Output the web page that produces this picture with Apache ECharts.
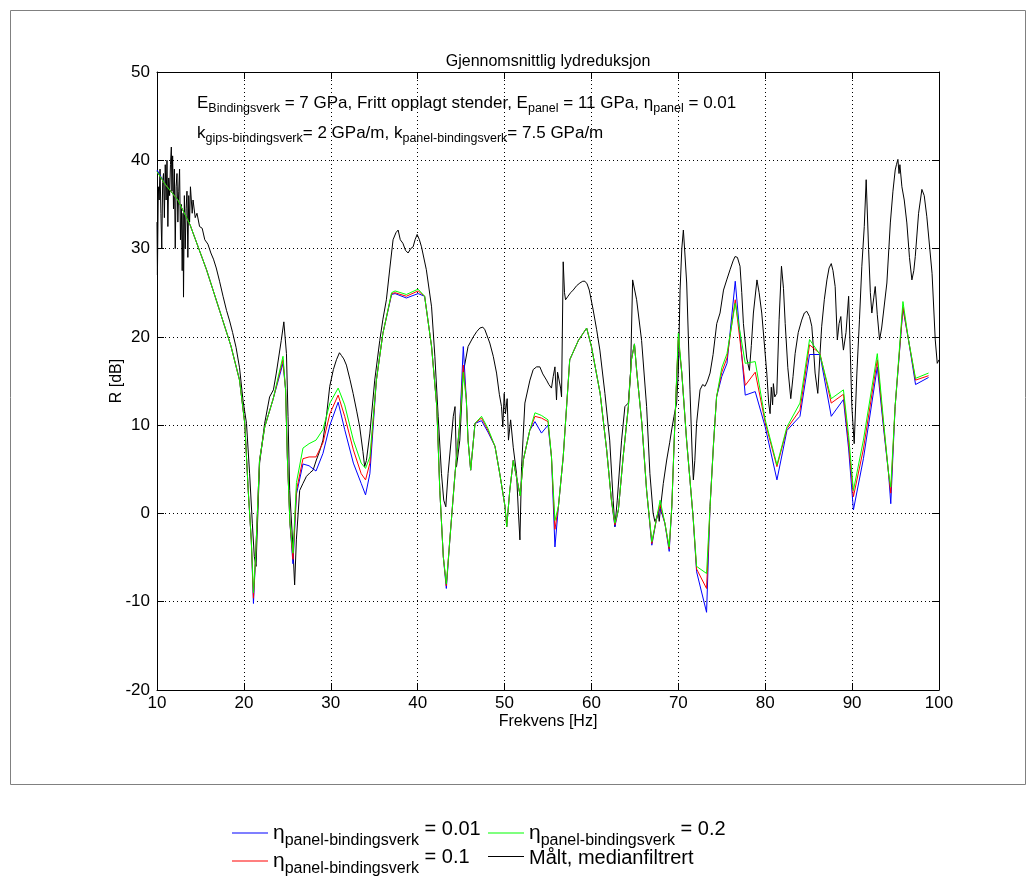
<!DOCTYPE html>
<html><head><meta charset="utf-8">
<script src="https://cdn.jsdelivr.net/npm/echarts@6/dist/echarts.min.js"></script>
<style>html,body{margin:0;padding:0;background:#fff}#c{width:1036px;height:876px}</style>
</head><body><div id="c"></div>
<script>
// ---------- DATA ----------
const titleText = 'Gjennomsnittlig lydreduksjon';
const xAxisName = 'Frekvens [Hz]';
const yAxisName = 'R [dB]';
const seriesNames = ['eta001', 'eta01', 'eta02', 'measured'];
const etaValues = ['0.01', '0.1', '0.2'];
const measuredLabel = 'Målt, medianfiltrert';

// model frequencies (Hz)
const modelFreq = [
  10, 11, 12.4, 13.8, 15.7, 17.2, 18.5, 19.5, 20.1, 20.5,
  20.85, 21.1, 21.35, 21.8, 22.4, 23.35, 24.5, 24.8, 25.0, 25.3,
  25.65, 26.05, 26.8, 27.5, 28.3, 29.1, 29.9, 30.85, 31.6, 32.6,
  33.5, 34.0, 34.5, 35.25, 36.0, 37.0, 37.4, 38.7, 40.05, 40.8,
  41.6, 42.2, 42.55, 42.95, 43.3, 43.7, 44.3, 44.85, 45.25, 45.6,
  45.8, 46.1, 46.6, 47.35, 48.1, 48.9, 49.45, 50.05, 50.25, 50.6,
  51.0, 51.3, 51.8, 52.15, 52.9, 53.5, 54.25, 55.0, 55.4, 55.8,
  56.2, 56.75, 57.5, 58.5, 59.45, 60.0, 61.0, 61.75, 62.3, 62.7,
  63.1, 63.65, 64.25, 64.6, 64.95, 65.2, 65.8, 66.35, 66.95, 67.45,
  67.9, 68.45, 68.95, 69.25, 69.6, 70.0, 70.4, 70.95, 71.7, 72.1,
  73.25, 73.65, 74.05, 74.4, 75.0, 75.6, 76.55, 77.7, 78.85, 80.0,
  81.35, 82.5, 84.0, 85.1, 86.3, 87.6, 89.0, 89.6, 90.15, 91.3,
  92.9, 93.6, 94.2, 94.45, 94.95, 95.85, 96.5, 97.3, 98.8
];
// eta = 0.01 (blue)
const modelBlue = [
  38.9, 37.2, 35.5, 32.7, 27.6, 23.0, 19.0, 15.1, 10.2, 2.6,
  -3.0, -10.2, -4.9, 6.0, 9.8, 12.9, 17.0, 14.0, 6.4, -1.1,
  -5.7, 2.2, 5.6, 5.4, 4.8, 6.8, 10.0, 12.6, 9.5, 5.7,
  3.4, 2.1, 4.5, 15.1, 20.4, 24.8, 24.9, 24.4, 24.9, 24.6,
  18.9, 12.1, 2.6, -4.9, -8.5, -3.0, 4.5, 10.2, 18.9, 12.9,
  8.3, 4.9, 10.2, 10.5, 9.2, 7.6, 4.5, 0.8, -1.5, 2.6,
  6.0, 4.5, 2.0, 6.0, 9.4, 10.4, 9.1, 10.0, 6.4, -3.8,
  0.8, 6.4, 17.4, 19.6, 21.0, 18.9, 13.6, 7.2, 1.5, -1.5,
  0.4, 6.4, 12.1, 17.4, 19.2, 16.2, 10.2, 2.6, -3.6, -0.8,
  0.6, -1.1, -4.3, 0.8, 10.2, 19.6, 15.9, 8.3, -0.4, -6.6,
  -11.2, 0.8, 7.9, 13.2, 15.5, 17.0, 26.3, 13.4, 13.8, 9.8,
  3.8, 9.4, 11.0, 18.0, 18.0, 11.0, 12.9, 7.3, 0.4, 6.2,
  16.6, 9.8, 4.5, 1.1, 12.1, 23.2, 19.6, 14.6, 15.4
];
// eta = 0.1 (red)
const modelRed = [
  38.7, 37.2, 35.5, 32.7, 27.6, 23.0, 19.0, 15.1, 10.2, 2.6,
  -3.0, -9.6, -4.9, 6.0, 9.8, 12.9, 17.4, 14.0, 6.4, -1.1,
  -5.2, 2.6, 6.2, 6.4, 6.4, 8.0, 11.3, 13.4, 11.0, 7.2,
  4.5, 3.8, 5.7, 15.1, 20.4, 24.9, 25.0, 24.6, 25.2, 24.6,
  18.9, 12.1, 2.6, -4.9, -8.2, -3.0, 4.5, 10.2, 16.8, 12.9,
  8.3, 4.9, 10.2, 10.8, 9.4, 7.6, 4.5, 0.8, -1.5, 2.6,
  6.0, 4.5, 2.0, 6.0, 9.4, 11.0, 10.8, 10.4, 6.4, -1.8,
  0.8, 6.4, 17.4, 19.6, 21.0, 18.9, 13.6, 7.2, 1.5, -1.3,
  0.4, 6.4, 12.1, 17.4, 19.2, 16.2, 10.2, 2.6, -3.4, -0.8,
  1.0, -1.1, -4.0, 0.8, 10.2, 20.0, 15.9, 8.3, -0.4, -6.3,
  -8.5, 0.8, 7.9, 13.2, 16.0, 17.6, 24.2, 14.5, 16.0, 10.3,
  5.3, 9.6, 11.7, 19.1, 18.1, 12.5, 13.5, 8.0, 1.9, 7.3,
  17.4, 10.2, 4.5, 2.3, 12.1, 23.4, 19.6, 15.1, 15.6
];
// eta = 0.2 (green)
const modelGreen = [
  38.7, 37.2, 35.5, 32.7, 27.6, 23.0, 19.0, 15.1, 10.2, 2.6,
  -3.0, -9.0, -4.9, 6.0, 9.8, 12.9, 17.8, 14.0, 6.4, -1.1,
  -4.5, 3.5, 7.4, 7.9, 8.3, 9.5, 12.5, 14.2, 12.3, 8.3,
  5.7, 5.1, 6.4, 15.1, 20.4, 25.0, 25.2, 24.8, 25.4, 24.6,
  18.9, 12.1, 2.6, -4.9, -8.0, -3.0, 4.5, 10.2, 16.0, 12.9,
  8.3, 4.9, 10.2, 11.0, 9.6, 7.6, 4.5, 0.8, -1.5, 2.6,
  6.0, 4.5, 2.0, 6.0, 9.4, 11.4, 11.1, 10.6, 6.4, -0.8,
  0.8, 6.4, 17.4, 19.6, 21.0, 18.9, 13.6, 7.2, 1.5, -1.1,
  0.4, 6.4, 12.1, 17.4, 19.2, 16.2, 10.2, 2.6, -3.2, -0.8,
  1.5, -1.1, -3.8, 0.8, 10.2, 20.4, 15.9, 8.3, -0.4, -6.0,
  -6.8, 0.8, 7.9, 13.2, 16.5, 18.1, 23.8, 17.0, 17.2, 10.6,
  5.5, 9.8, 12.5, 19.7, 18.0, 13.0, 14.0, 8.8, 2.6, 8.3,
  18.1, 10.6, 4.5, 3.0, 12.1, 24.0, 19.6, 15.3, 15.9
];
// measured, median filtered: [frequency Hz, R dB]
const measuredPoints = [
  [10.0,33],[10.05,27],[10.15,37],[10.25,35.5],[10.35,39],[10.45,34],[10.55,30],[10.65,37.5],[10.75,38.5],[10.85,33.5],
  [10.95,39.5],[11.05,35.5],[11.15,40],[11.25,32.5],[11.35,38],[11.45,36],[11.55,39.5],[11.65,41.5],[11.72,36.5],[11.8,40.5],
  [11.9,34.5],[12.0,39],[12.1,30],[12.2,37],[12.3,38.5],[12.4,33],[12.5,36.5],[12.6,39],[12.7,31],[12.8,35],
  [12.9,27.5],[13.0,34],[13.05,24.5],[13.15,36],[13.25,30],[13.35,34.5],[13.45,36.5],[13.55,29],[13.65,36],[13.75,33],
  [13.85,37],[13.95,35.5],[14.05,34],[14.15,35.5],[14.4,33.5],[14.6,34],[14.9,32.5],[15.2,32.3],[15.5,31],[15.86,30.5],
  [16.2,29.5],[16.5,28.8],[16.82,27.8],[17.2,26.3],[17.6,24.6],[18.0,23.0],[18.36,21.8],[18.7,20.5],[19.1,18.8],[19.5,16.5],
  [19.9,12.8],[20.3,10.2],[20.66,4.5],[20.97,-1.1],[21.2,-4.9],[21.4,-6.0],[21.5,-3.0],[21.81,5.7],[22.39,10.2],[22.96,13.2],
  [23.4,14.0],[23.73,15.9],[24.3,19.6],[24.6,21.7],[24.9,18.1],[25.08,11],[25.27,2.6],[25.6,-3.0],[25.84,-8.1],[26.04,-3],
  [26.42,2.6],[26.8,3.4],[27.2,4.2],[27.6,4.6],[27.96,4.9],[28.34,6.05],[28.7,7.0],[29.1,8.3],[29.5,11.0],[29.88,14.4],
  [30.3,16.3],[30.65,17.4],[31.0,18.2],[31.22,17.9],[31.5,17.5],[31.8,16.8],[32.2,15.2],[32.57,13.6],[33.0,11.5],[33.33,9.8],
  [33.7,7.0],[33.9,5.3],[34.1,6.0],[34.5,9.1],[35.06,15.1],[35.64,19.6],[36.0,22.0],[36.4,24.2],[36.8,27.8],[37.17,31.0],
  [37.5,31.8],[37.75,32.1],[38.0,31.0],[38.3,30.6],[38.6,29.8],[38.9,29.5],[39.2,30.0],[39.48,30.2],[39.7,31.0],[39.94,31.6],
  [40.2,31.0],[40.44,30.2],[41.0,27.6],[41.6,23.4],[41.98,17.8],[42.36,11.0],[42.74,4.5],[43.0,1.5],[43.24,0.75],[43.5,4.5],
  [44.1,11.0],[44.3,12.1],[44.47,5.3],[44.85,8.3],[45.24,15.9],[45.8,18.9],[46.4,20.0],[46.8,20.6],[47.16,21.0],[47.5,21.1],
  [47.74,20.8],[48.3,19.3],[48.7,17.8],[49.08,15.9],[49.4,13.5],[49.65,12.1],[49.8,9.8],[49.96,13.6],[50.1,11.3],[50.3,13.0],
  [50.45,8.3],[50.7,10.6],[51.0,7.5],[51.38,4.5],[51.6,0],[51.77,-3.0],[51.96,5.3],[52.34,12.5],[52.92,15.1],[53.3,16.3],
  [53.69,16.6],[54.06,16.6],[54.4,15.8],[54.83,15.1],[55.1,14.6],[55.4,14.2],[55.6,15.5],[55.8,16.6],[55.98,12.85],[56.1,16.0],
  [56.29,15.9],[56.45,14.2],[56.56,13.2],[56.75,28.5],[56.9,25.0],[57.02,24.2],[57.3,24.6],[57.6,25.0],[57.9,25.3],[58.3,25.8],
  [58.67,26.1],[59.0,26.3],[59.25,26.3],[59.5,26.0],[59.75,25.3],[60.2,23.05],[60.6,20.8],[60.97,18.5],[61.55,13.6],[62.1,8.3],
  [62.5,1.5],[62.7,-1.5],[62.97,1.5],[63.47,8.3],[63.85,12.1],[64.24,12.5],[64.5,15.9],[64.74,26.45],[65.2,24.2],[65.77,19.6],
  [66.35,12.1],[66.73,4.5],[67.1,0.0],[67.3,-0.9],[67.5,-0.5],[67.7,0.2],[67.8,-0.9],[67.96,0.75],[68.27,3.4],[68.66,6.05],
  [69.0,8.0],[69.23,9.45],[69.5,11.0],[69.8,12.5],[70.0,16],[70.2,25.3],[70.4,30],[70.58,32.1],[70.75,29.5],[70.96,26.1],
  [71.34,14.0],[71.6,6.5],[71.73,3.8],[71.9,6.0],[72.1,10.2],[72.5,14.0],[72.8,14.6],[73.07,14.4],[73.35,15.0],[73.65,15.9],
  [74.0,18.0],[74.42,21.5],[74.8,22.7],[75.2,25.3],[75.57,26.45],[75.95,27.6],[76.3,28.6],[76.53,29.1],[76.8,29.0],[77.1,28.0],
  [77.3,25.0],[77.49,21.5],[77.87,17.6],[78.0,17.0],[78.18,16.2],[78.4,19.0],[78.64,22.7],[79.05,26.45],[79.3,25.0],[79.6,22.7],
  [80.18,15.9],[80.4,12.5],[80.56,11.3],[80.7,14.3],[80.85,12.3],[80.94,14.7],[81.1,13.2],[81.33,13.6],[81.6,22.0],[81.87,28.0],
  [82.1,25.5],[82.3,21.5],[82.6,16.5],[82.94,13.0],[83.2,15.5],[83.44,18.1],[83.8,20.5],[84.2,21.9],[84.5,22.7],[84.78,22.9],
  [85.1,22.3],[85.36,21.2],[85.6,18.0],[85.74,15.9],[86.05,13.6],[86.3,18.0],[86.5,21.2],[86.8,24.2],[87.1,26.45],[87.35,27.8],
  [87.6,28.3],[87.8,27.5],[88.05,25.7],[88.3,19.65],[88.5,21.5],[88.7,22.3],[88.85,20.0],[89.0,18.5],[89.3,20.5],[89.6,24.6],
  [89.8,18.0],[89.97,12.1],[90.24,7.9],[90.55,15.9],[90.85,22.0],[91.12,28.0],[91.4,32.5],[91.62,37.8],[91.9,29.9],[92.1,25.0],
  [92.27,22.7],[92.5,24.5],[92.66,25.7],[92.9,22.5],[93.16,19.65],[93.4,21.0],[93.6,22.7],[94.0,26.1],[94.4,32.9],[94.7,36.5],
  [94.96,38.9],[95.1,39.5],[95.27,40.1],[95.4,38.5],[95.5,39.5],[95.73,37.0],[96.0,35.5],[96.3,32.9],[96.6,29.0],[96.88,26.45],
  [97.1,27.5],[97.27,29.1],[97.65,34.0],[98.03,36.7],[98.3,36.0],[98.6,33.6],[99.2,27.2],[99.57,19.65],[99.8,17.0],[100.0,17.4]
];

// ---------- CHART ----------
const FONT = "'Liberation Sans', Arial, Helvetica, sans-serif";
const zip = (xs, ys) => xs.map((x, i) => [x, ys[i]]);
const chart = echarts.init(document.getElementById('c'), null, {renderer: 'canvas'});

const GL = 157, GT = 72, GW = 782, GH = 618;

const legendRich = {
  e: {fontSize: 21, fontFamily: FONT, color: '#000', lineHeight: 26},
  s: {fontSize: 16, fontFamily: FONT, color: '#000', lineHeight: 10, padding: [16, 0, 0, 0]},
  v: {fontSize: 20, fontFamily: FONT, color: '#000', lineHeight: 10, padding: [0, 0, 8, 0]},
  m: {fontSize: 20, fontFamily: FONT, color: '#000', lineHeight: 26, padding: [3, 0, 0, 0]}
};
function legendFmt(name) {
  const i = seriesNames.indexOf(name);
  if (i < 3) return '{e|\u03b7}{s|panel-bindingsverk}{v| = ' + etaValues[i] + '}';
  return '{m|' + measuredLabel + '}';
}
function makeLegend(name, left, top) {
  return {
    data: [name], left: left, top: top, orient: 'horizontal',
    icon: 'rect', itemWidth: 36, itemHeight: 1, itemGap: 0, padding: 0,
    formatter: legendFmt, selectedMode: false,
    textStyle: {fontFamily: FONT, color: '#000', rich: legendRich}
  };
}

const annRich = {
  m: {fontSize: 17, fontFamily: FONT, fill: '#000'},
  s: {fontSize: 12.5, fontFamily: FONT, fill: '#000', padding: [12, 0, 0, 0]}
};

const axisCommon = {
  axisLine: {show: true, onZero: false, lineStyle: {color: '#000', width: 1}},
  axisTick: {show: true, inside: true, length: 7, lineStyle: {color: '#000', width: 1}}
};

const option = {
  animation: false,
  backgroundColor: '#fff',
  grid: {left: GL, top: GT, width: GW, height: GH, containLabel: false},
  xAxis: [
    Object.assign({
      type: 'value', min: 10, max: 100, interval: 10, position: 'bottom',
      axisLabel: {color: '#000', fontSize: 17, fontFamily: FONT, margin: 5},
      splitLine: {show: true, lineStyle: {color: '#000', width: 1, type: [1, 3]}},
      name: xAxisName, nameLocation: 'middle', nameGap: 24, nameMoveOverlap: false,
      nameTextStyle: {color: '#000', fontSize: 16, fontFamily: FONT, verticalAlign: 'top'}
    }, axisCommon),
    Object.assign({
      type: 'value', min: 10, max: 100, interval: 10, position: 'top',
      axisLabel: {show: false}, splitLine: {show: false}
    }, axisCommon)
  ],
  yAxis: [
    Object.assign({
      type: 'value', min: -20, max: 50, interval: 10, position: 'left',
      axisLabel: {color: '#000', fontSize: 17, fontFamily: FONT, margin: 7},
      splitLine: {show: true, lineStyle: {color: '#000', width: 1, type: [1, 3]}},
      name: yAxisName, nameLocation: 'middle', nameGap: 32, nameRotate: 90, nameMoveOverlap: false,
      nameTextStyle: {color: '#000', fontSize: 16, fontFamily: FONT}
    }, axisCommon),
    Object.assign({
      type: 'value', min: -20, max: 50, interval: 10, position: 'right',
      axisLabel: {show: false}, splitLine: {show: false}
    }, axisCommon)
  ],
  legend: [
    makeLegend(seriesNames[0], 232, 817),
    makeLegend(seriesNames[1], 232, 845),
    makeLegend(seriesNames[2], 488, 817),
    makeLegend(seriesNames[3], 488, 845)
  ],
  graphic: [
    {type: 'rect', silent: true, z: -10,
     shape: {x: 10.5, y: 10.5, width: 1015, height: 774},
     style: {fill: 'none', stroke: '#808080', lineWidth: 1}},
    {type: 'text', silent: true, x: 548, y: 62,
     style: {text: titleText, fill: '#000', font: '16px ' + FONT, align: 'center', verticalAlign: 'middle'}},
    {type: 'text', silent: true, x: 197, y: 103,
     style: {text: '{m|E}{s|Bindingsverk}{m| = 7 GPa, Fritt opplagt stender, E}{s|panel}{m| = 11 GPa, \u03b7}{s|panel}{m| = 0.01}',
             rich: annRich, align: 'left', verticalAlign: 'middle'}},
    {type: 'text', silent: true, x: 197, y: 133,
     style: {text: '{m|k}{s|gips-bindingsverk}{m|= 2 GPa/m, k}{s|panel-bindingsverk}{m|= 7.5 GPa/m}',
             rich: annRich, align: 'left', verticalAlign: 'middle'}}
  ],
  series: [
    {name: seriesNames[3], type: 'line', data: measuredPoints, symbol: 'none',
     lineStyle: {color: '#000', width: 1}, itemStyle: {color: '#000'}, z: 2},
    {name: seriesNames[0], type: 'line', data: zip(modelFreq, modelBlue), symbol: 'none',
     lineStyle: {color: '#0000ff', width: 1}, itemStyle: {color: '#0000ff'}, z: 3},
    {name: seriesNames[1], type: 'line', data: zip(modelFreq, modelRed), symbol: 'none',
     lineStyle: {color: '#ff0000', width: 1}, itemStyle: {color: '#ff0000'}, z: 4},
    {name: seriesNames[2], type: 'line', data: zip(modelFreq, modelGreen), symbol: 'none',
     lineStyle: {color: '#00ff00', width: 1}, itemStyle: {color: '#00ff00'}, z: 5}
  ]
};
chart.setOption(option);
</script></body></html>
